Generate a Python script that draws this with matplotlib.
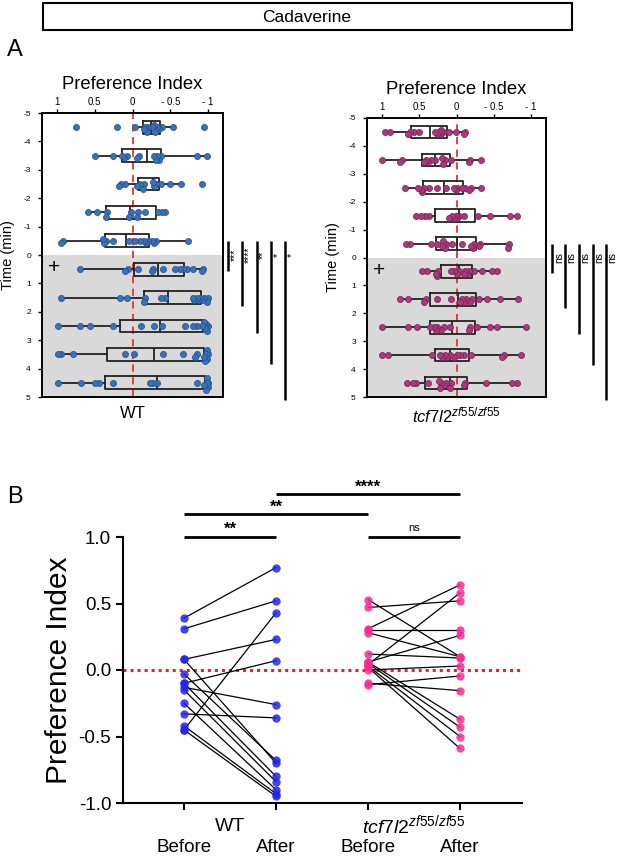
import numpy as np
import matplotlib
matplotlib.use("Agg")
import matplotlib.pyplot as plt
from matplotlib.patches import Rectangle

plt.rcParams['font.family'] = ['Liberation Sans', 'DejaVu Sans']
plt.rcParams['mathtext.fontset'] = 'custom'
plt.rcParams['mathtext.rm'] = 'Liberation Sans'
plt.rcParams['mathtext.it'] = 'Liberation Sans:italic'

# ---------------- DATA ----------------
title_text = "Cadaverine"
row_times = [-4.5, -3.5, -2.5, -1.5, -0.5, 0.5, 1.5, 2.5, 3.5, 4.5]
y_ticks_A = [-5, -4, -3, -2, -1, 0, 1, 2, 3, 4, 5]
x_ticks_A = [1, 0.5, 0, -0.5, -1]
x_ticklabels_A = ["1", "0.5", "0", "- 0.5", "- 1"]

wt_points = [
    [0.746, 0.21, -0.03, -0.146, -0.168, -0.19, -0.21, -0.256, -0.287, -0.3, -0.32, -0.357, -0.39, -0.534, -0.954],
    [0.494, 0.26, 0.141, 0.11, 0.075, -0.057, -0.08, -0.287, -0.313, -0.331, -0.357, -0.375, -0.852, -0.985],
    [0.185, 0.154, 0.097, -0.066, -0.1, -0.137, -0.155, -0.27, -0.287, -0.313, -0.375, -0.5, -0.645, -0.918],
    [0.596, 0.472, 0.349, 0.34, 0.04, 0.022, -0.057, -0.071, -0.168, -0.344, -0.389, -0.433],
    [0.945, 0.923, 0.393, 0.375, 0.349, 0.252, 0.053, -0.035, -0.093, -0.155, -0.181, -0.212, -0.256, -0.291, -0.313, -0.742],
    [0.702, 0.097, 0.062, -0.079, -0.256, -0.278, -0.402, -0.565, -0.631, -0.675, -0.72, -0.8, -0.918, -0.94],
    [0.945, 0.163, 0.075, -0.155, -0.168, -0.375, -0.433, -0.8, -0.821, -0.852, -0.874, -0.896, -0.918, -0.949, -0.985, -1.0],
    [0.993, 0.693, 0.57, 0.252, -0.115, -0.287, -0.389, -0.698, -0.808, -0.861, -0.918, -0.949, -0.962, -0.976, -0.993, -1.0],
    [0.993, 0.945, 0.79, 0.106, -0.022, -0.402, -0.667, -0.83, -0.852, -0.949, -0.962, -0.985, -0.993, -1.0, -0.975],
    [0.993, 0.68, 0.503, 0.44, 0.26, -0.234, -0.278, -0.322, -0.852, -0.949, -0.976, -0.985, -0.993, -1.0, -1.0],
]
wt_q1 = [-0.137, 0.137, -0.071, 0.349, 0.371, -0.026, -0.155, 0.172, 0.34, 0.371]
wt_med = [-0.24, -0.186, -0.27, 0.031, 0.084, -0.336, -0.477, -0.366, -0.291, -0.322]
wt_q3 = [-0.36, -0.38, -0.358, -0.309, -0.221, -0.684, -0.91, -0.94, -0.949, -0.962]
wt_whislo = [-0.03, 0.494, 0.185, 0.596, 0.945, 0.702, 0.945, 0.993, 0.993, 0.993]
wt_whishi = [-0.534, -0.985, -0.645, -0.433, -0.742, -0.94, -1.0, -1.0, -1.0, -1.0]

mut_points = [
    [0.956, 0.898, 0.655, 0.624, 0.566, 0.5, 0.292, 0.265, 0.235, 0.212, 0.204, 0.177, 0.102, 0.013, -0.097, -0.119],
    [0.996, 0.757, 0.735, 0.434, 0.403, 0.376, 0.345, 0.288, 0.19, 0.177, 0.159, 0.08, -0.164, -0.186, -0.332],
    [0.686, 0.522, 0.478, 0.456, 0.442, 0.367, 0.257, 0.146, 0.035, 0.013, -0.009, -0.075, -0.119, -0.164, -0.199, -0.332],
    [0.544, 0.478, 0.42, 0.367, 0.102, 0.066, 0.035, 0.013, -0.009, -0.04, -0.097, -0.283, -0.451, -0.717, -0.814],
    [0.677, 0.624, 0.345, 0.265, 0.19, 0.177, 0.159, 0.146, 0.058, -0.075, -0.195, -0.217, -0.23, -0.296, -0.319, -0.695, -0.704],
    [0.456, 0.389, 0.279, 0.257, 0.243, 0.08, 0.035, -0.009, -0.031, -0.097, -0.119, -0.142, -0.164, -0.23, -0.341, -0.473, -0.54],
    [0.752, 0.655, 0.434, 0.412, 0.257, 0.08, -0.053, -0.075, -0.097, -0.133, -0.186, -0.208, -0.296, -0.407, -0.584, -0.827],
    [0.996, 0.646, 0.535, 0.354, 0.301, 0.279, 0.257, 0.204, 0.168, 0.088, -0.164, -0.186, -0.274, -0.451, -0.54, -0.938],
    [0.996, 0.92, 0.323, 0.221, 0.19, 0.159, 0.124, 0.088, 0.027, -0.009, -0.053, -0.097, -0.195, -0.606, -0.642, -0.863],
    [0.664, 0.588, 0.544, 0.381, 0.235, 0.221, 0.212, 0.168, 0.146, 0.088, 0.08, -0.097, -0.119, -0.398, -0.739, -0.805],
]
mut_q1 = [0.611, 0.465, 0.447, 0.288, 0.27, 0.212, 0.358, 0.354, 0.292, 0.42]
mut_med = [0.354, 0.288, 0.168, -0.04, 0.0, -0.031, -0.022, 0.058, 0.088, 0.088]
mut_q3 = [0.133, 0.093, -0.088, -0.243, -0.265, -0.208, -0.261, -0.243, -0.173, -0.142]
mut_whislo = [0.956, 0.996, 0.686, 0.544, 0.677, 0.456, 0.752, 0.996, 0.996, 0.664]
mut_whishi = [-0.119, -0.332, -0.332, -0.814, -0.704, -0.54, -0.827, -0.938, -0.863, -0.805]

wt_sig = ["***", "****", "**", "*", "*"]
mut_sig = ["ns", "ns", "ns", "ns", "ns"]

# Panel B: paired before/after
wt_before = [0.39, 0.31, 0.08, 0.08, -0.45, -0.10, -0.13, -0.33, -0.03, -0.10, -0.15, -0.25, -0.42, -0.45]
wt_after = [0.77, 0.52, 0.23, -0.70, 0.43, 0.07, -0.26, -0.36, -0.68, -0.80, -0.84, -0.90, -0.93, -0.95]
mut_before = [0.47, 0.53, 0.31, 0.30, 0.28, 0.04, 0.06, 0.12, 0.00, -0.11, -0.10, 0.06, 0.05, 0.03, 0.02]
mut_after = [0.52, 0.10, 0.64, 0.30, 0.10, 0.58, 0.26, 0.09, 0.03, -0.045, -0.155, -0.37, -0.43, -0.50, -0.59]
b_ticklabels = ["Before", "After", "Before", "After"]
b_yticks = [-1.0, -0.5, 0.0, 0.5, 1.0]
b_sig = ["**", "**", "****", "ns"]

# ---------------- FIGURE ----------------
fig = plt.figure(figsize=(6.17, 8.56), dpi=100)
W, H = 617, 856

def fax(x0, y0, x1, y1):
    return [x0 / W, 1 - y1 / H, (x1 - x0) / W, (y1 - y0) / H]

# Banner
fig.patches.append(Rectangle((43 / W, 1 - 30 / H), (572 - 43) / W, 27 / H,
                             transform=fig.transFigure, fill=False, lw=1.5, ec='black'))
fig.text(307 / W, 1 - 17 / H, title_text, ha='center', va='center', fontsize=12.5)
fig.text(7 / W, 1 - 50 / H, "A", ha='left', va='center', fontsize=17)
fig.text(7 / W, 1 - 497 / H, "B", ha='left', va='center', fontsize=17)


def swarm_offsets(vals, xscale, yscale, diam):
    placed = []
    offs = []
    step = diam * 0.45
    thr = diam * 0.55
    for v in vals:
        px = v * xscale
        k = 0
        cands = [0]
        for i in range(1, 4):
            cands += [i, -i]
        for c in cands:
            py = c * step
            ok = True
            for (qx, qy) in placed:
                if (px - qx) ** 2 + (py - qy) ** 2 < thr ** 2:
                    ok = False
                    break
            if ok:
                k = c
                break
        py = k * step
        placed.append((px, py))
        offs.append(py / yscale)
    return offs


def panel_A(rect, points, q1, med, q3, wlo, whi, fc, ec, sig, sig_x, xlabel):
    ax = fig.add_axes(rect)
    ax.set_xlim(1.2, -1.2)
    ax.set_ylim(5, -5)
    ax.axhspan(0, 5, color='#d9d9d9', zorder=0, lw=0)
    ax.axvline(0, color='#e8312f', ls=(0, (4, 3)), lw=1.3, zorder=1)
    stats = []
    for i in range(len(row_times)):
        stats.append(dict(med=med[i], q1=q1[i], q3=q3[i], whislo=wlo[i], whishi=whi[i], fliers=[]))
    ax.bxp(stats, positions=row_times, widths=0.45, orientation='horizontal',
           showcaps=False, showfliers=False, patch_artist=False, manage_ticks=False,
           boxprops=dict(color='#222222', lw=1.3),
           medianprops=dict(color='#222222', lw=1.3),
           whiskerprops=dict(color='#222222', lw=1.3), zorder=2)
    bbox = ax.get_position()
    xscale = bbox.width * W / 2.4
    yscale = bbox.height * H / 10.0
    for t, vals in zip(row_times, points):
        order = np.argsort(vals)
        sv = [vals[j] for j in order]
        offs = swarm_offsets(sv, xscale, yscale, 5.0)
        ax.plot(sv, [t + o for o in offs], 'o', ms=4.4, mfc=fc, mec=ec, mew=0.5,
                ls='none', zorder=3)
    ax.set_xticks(x_ticks_A)
    ax.set_xticklabels(x_ticklabels_A)
    ax.xaxis.tick_top()
    ax.xaxis.set_label_position('top')
    ax.set_xlabel("Preference Index", fontsize=13.3, labelpad=6)
    ax.set_yticks(y_ticks_A)
    ax.set_yticklabels([str(v) for v in y_ticks_A])
    ax.tick_params(axis='x', labelsize=7, length=3, width=1, pad=1)
    ax.tick_params(axis='y', labelsize=6, length=3, width=1, pad=5)
    ax.set_ylabel("Time (min)", fontsize=10.5, labelpad=6)
    for s in ax.spines.values():
        s.set_linewidth(1.4)
    ax.text(0.065, 0.45, "+", transform=ax.get_yaxis_transform(), fontsize=15, ha='center', va='center')
    tr = ax.get_yaxis_transform()
    ends = [0.55, 1.8, 2.75, 3.85, 5.1]
    for xf, end, lab in zip(sig_x, ends, sig):
        ax.plot([xf, xf], [-0.5, end], color='black', lw=1.8, transform=tr, clip_on=False,
                solid_capstyle='butt')
        ax.text(xf + 0.037, 0.0, lab, transform=tr, rotation=90, ha='center', va='center',
                fontsize=7.5)
    ax.text(0.5, -0.03, xlabel, transform=ax.transAxes, ha='center', va='top', fontsize=12)
    return ax


axL = panel_A(fax(42, 113, 223, 397), wt_points, wt_q1, wt_med, wt_q3, wt_whislo, wt_whishi,
              '#3a70b8', '#1f4f8f', wt_sig, [1.029, 1.107, 1.186, 1.264, 1.343], "WT")
axR = panel_A(fax(367, 118, 546, 397), mut_points, mut_q1, mut_med, mut_q3, mut_whislo, mut_whishi,
              '#a83a78', '#7a2058', mut_sig, [1.035, 1.106, 1.184, 1.261, 1.335],
              r"$\mathit{tcf7l2}^{\mathit{zf55/zf55}}$")

# ---------------- Panel B ----------------
axB = fig.add_axes(fax(123, 537, 522, 803))
axB.set_xlim(-0.663, 3.674)
axB.set_ylim(-1.0, 1.0)
axB.axhline(0, color='#e8222a', ls=(0, (1, 1.3)), lw=2.2, zorder=1)
blue = '#2424ee'
pink = '#f52c93'
for b, a in zip(wt_before, wt_after):
    axB.plot([0, 1], [b, a], color='black', lw=0.9, zorder=2)
for b, a in zip(mut_before, mut_after):
    axB.plot([2, 3], [b, a], color='black', lw=0.9, zorder=2)
axB.plot([0] * len(wt_before), wt_before, 'o', ms=6, color=blue, alpha=0.85, mew=0, zorder=3)
axB.plot([1] * len(wt_after), wt_after, 'o', ms=6, color=blue, alpha=0.85, mew=0, zorder=3)
axB.plot([2] * len(mut_before), mut_before, 'o', ms=6, color=pink, alpha=0.85, mew=0, zorder=3)
axB.plot([3] * len(mut_after), mut_after, 'o', ms=6, color=pink, alpha=0.85, mew=0, zorder=3)
axB.spines['top'].set_visible(False)
axB.spines['right'].set_visible(False)
axB.spines['left'].set_linewidth(1.5)
axB.spines['bottom'].set_linewidth(1.5)
axB.set_yticks(b_yticks)
axB.set_yticklabels(["%.1f" % v for v in b_yticks])
axB.set_xticks([0, 1, 2, 3])
axB.set_xticklabels(b_ticklabels)
axB.tick_params(axis='y', labelsize=13.5, length=5, width=1.5)
axB.tick_params(axis='x', labelsize=13.5, length=5, width=1.5, pad=21)
axB.set_ylabel("Preference Index", fontsize=21.5, labelpad=4)
axB.text(0.5, -1.18, "WT", ha='center', va='center', fontsize=14)
axB.text(2.5, -1.17, r"$\mathit{tcf7l2}^{\mathit{zf55/zf55}}$", ha='center', va='center', fontsize=14)

bars = [(0, 1, 1.0), (0, 2, 1.17), (1, 3, 1.32), (2, 3, 1.0)]
for (x0, x1, yv), lab in zip(bars, b_sig):
    axB.plot([x0, x1], [yv, yv], color='black', lw=2, clip_on=False, solid_capstyle='butt')
    if lab == 'ns':
        axB.text((x0 + x1) / 2, yv + 0.03, lab, ha='center', va='bottom', fontsize=8)
    else:
        axB.text((x0 + x1) / 2, yv + 0.0, lab, ha='center', va='bottom', fontsize=12,
                 fontweight='bold')

fig.savefig("out.png", dpi=100)
